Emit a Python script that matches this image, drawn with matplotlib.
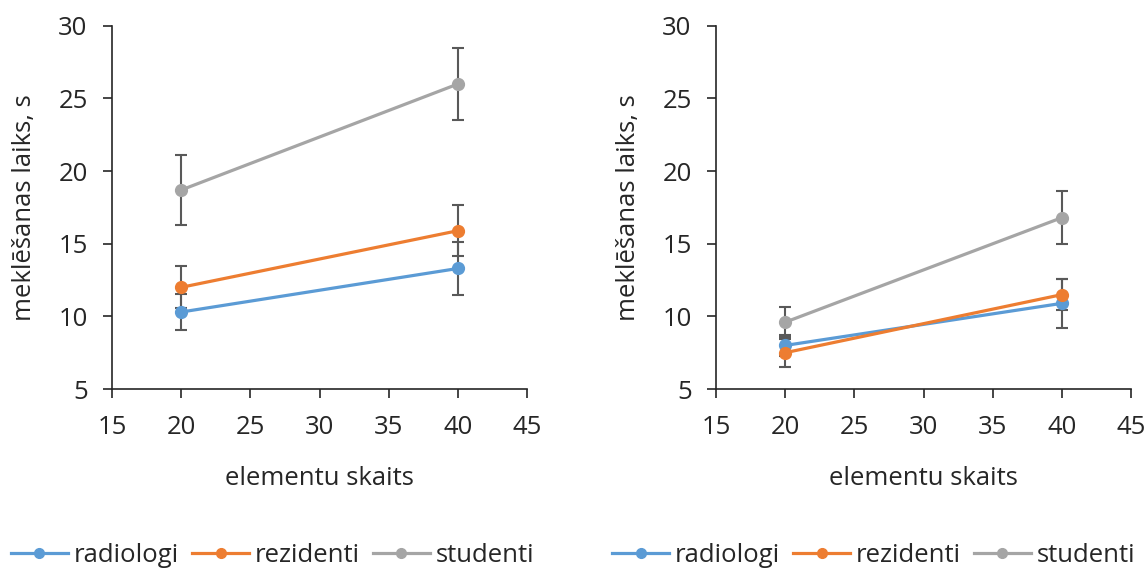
import matplotlib
matplotlib.use("Agg")
import matplotlib.pyplot as plt
from matplotlib.lines import Line2D

plt.rcParams['font.family'] = ['Open Sans', 'DejaVu Sans']

x_vals = [20, 40]
series = ["radiologi", "rezidenti", "studenti"]
colors = ["#5B9BD5", "#ED7D31", "#A5A5A5"]

left_means = {"radiologi": [10.3, 13.3], "rezidenti": [12.0, 15.9], "studenti": [18.7, 26.0]}
left_err = {"radiologi": [1.25, 1.8], "rezidenti": [1.45, 1.75], "studenti": [2.4, 2.5]}
right_means = {"radiologi": [8.0, 10.9], "rezidenti": [7.5, 11.5], "studenti": [9.6, 16.8]}
right_err = {"radiologi": [0.75, 1.7], "rezidenti": [0.95, 1.05], "studenti": [1.05, 1.85]}

xticks = [15, 20, 25, 30, 35, 40, 45]
yticks = [5, 10, 15, 20, 25, 30]
xlabel = "elementu skaits"
ylabel = "meklēšanas laiks, s"

TXT = '#262626'
fig = plt.figure(figsize=(11.47, 5.71), dpi=100)
ax1 = fig.add_axes([0.0976, 0.3187, 0.362, 0.636])
ax2 = fig.add_axes([0.6242, 0.3187, 0.362, 0.636])

for ax, means, errs, lcx in [(ax1, left_means, left_err, 0.238), (ax2, right_means, right_err, 0.762)]:
    for name, c in zip(series, colors):
        ax.errorbar(x_vals, means[name], yerr=errs[name], fmt='none', ecolor='#595959',
                    elinewidth=1.5, capsize=4.3, capthick=1.5, zorder=2)
        ax.plot(x_vals, means[name], color=c, marker='o', markersize=8.5, linewidth=2.3, zorder=3)
    ax.set_xlim(15, 45)
    ax.set_ylim(5, 30)
    ax.set_xticks(xticks)
    ax.set_yticks(yticks)
    for s in ['top', 'right']:
        ax.spines[s].set_visible(False)
    for s in ['left', 'bottom']:
        ax.spines[s].set_color(TXT)
        ax.spines[s].set_linewidth(1.2)
    ax.tick_params(axis='both', labelsize=18.5, length=6.5, width=1.2, color=TXT, labelcolor=TXT)
    ax.tick_params(axis='y', pad=11)
    ax.tick_params(axis='x', pad=12)
    ax.set_xlabel(xlabel, fontsize=18.5, color=TXT)
    ax.set_ylabel(ylabel, fontsize=18.5, color=TXT)
    ax.xaxis.set_label_coords(0.5, -0.213)
    ax.yaxis.set_label_coords(-0.18, 0.5)
    handles = [Line2D([0], [0], color=c, marker='o', markersize=7, linewidth=2.3) for c in colors]
    leg = fig.legend(handles, series, loc='center', bbox_to_anchor=(lcx, 0.028), ncol=3, frameon=False,
                     fontsize=18.5, handlelength=2.2, handletextpad=0.25, columnspacing=0.5)
    for t in leg.get_texts():
        t.set_color(TXT)

fig.savefig("out.png", dpi=100)
